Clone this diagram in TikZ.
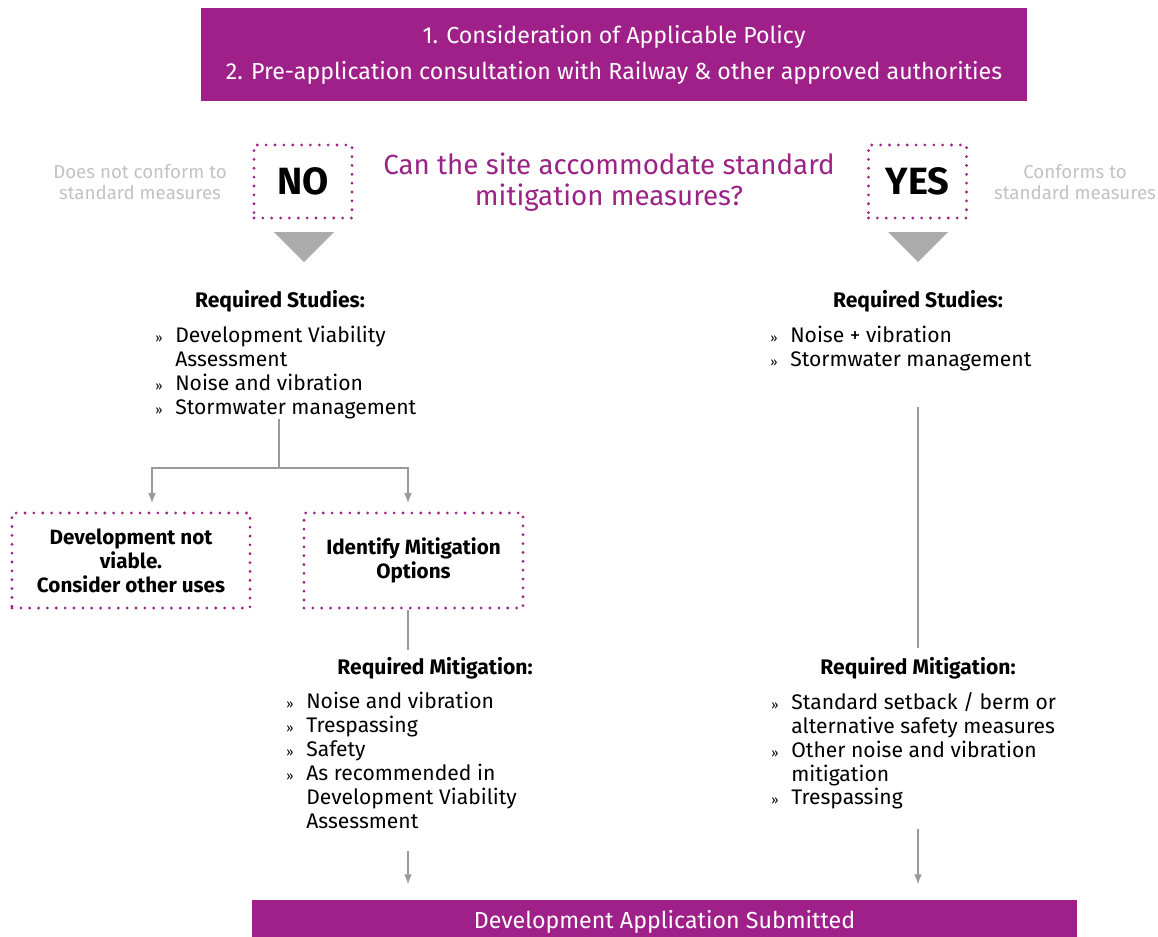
\documentclass[tikz,border=0pt]{standalone}
\usepackage{fontspec}
\setmainfont{Fira Sans}
\usetikzlibrary{positioning,arrows.meta}
\definecolor{plum}{HTML}{A0208A}
\definecolor{qplum}{HTML}{9B2386}
\definecolor{lgray}{HTML}{C2C2C2}
\definecolor{lnk}{HTML}{9A9A9A}
\definecolor{trigray}{HTML}{ABABAB}
\newcommand{\bu}{\makebox[0.5cm][l]{\small »}}
\newcommand{\ind}{\hspace*{0.5cm}}

\begin{document}
\begin{tikzpicture}[x=0.025cm,y=-0.025cm,
  banner/.style={fill=plum,text=white,align=center,inner sep=0pt,font=\fontsize{16.5}{25.6}\selectfont},
  dotbox/.style={draw=plum,line width=2.2pt,dash pattern=on 0pt off 6.3pt,line cap=round,align=center,inner sep=0pt},
  head/.style={font=\fontsize{15}{17}\selectfont\bfseries},
  list/.style={anchor=north west,inner sep=0pt,align=left,font=\fontsize{15}{17}\selectfont},
  side/.style={text=lgray,align=center,font=\fontsize{13.3}{15}\selectfont},
  link/.style={draw=lnk,line width=0.9pt},
  arr/.style={link,-{Latex[length=7pt,width=5.5pt]}}]
\useasboundingbox (0,0) rectangle (1158,936);

\node[banner,minimum width=20.65cm,minimum height=2.325cm] (policy) at (614,54.5)
  {1. Consideration of Applicable Policy\\2. Pre-application consultation with Railway \& other approved authorities};
\node[banner,minimum width=20.625cm,minimum height=1.1cm] (submit) at (664.5,922)
  {Development Application Submitted};

\node[text=qplum,align=center,font=\fontsize{19.7}{22}\selectfont] (question) at (609,182)
  {Can the site accommodate standard\\mitigation measures?};
\node[dotbox,minimum width=2.45cm,minimum height=1.825cm,font=\fontsize{27}{30}\selectfont\bfseries] (no) at (303,181.5) {NO};
\node[dotbox,minimum width=2.45cm,minimum height=1.825cm,font=\fontsize{27}{30}\selectfont\bfseries] (yes) at (917.5,181.5) {YES};
\node[side] (notconf) at (140,182) {Does not conform to\\standard measures};
\node[side] (conf) at (1075,182) {Conforms to\\standard measures};

\foreach \x in {304,918}
  \fill[trigray] (\x-30,232) -- (\x+30,232) -- (\x,262) -- cycle;

% no branch
\node[head] (studiesL) at (280,301) {Required Studies:};
\node[list] (studyL) at (155,326) {\bu Development Viability\\\ind Assessment\\\bu Noise and vibration\\\bu Stormwater management};
\coordinate (forkL) at (279,468);
\coordinate (forkA) at (152,468);
\coordinate (forkB) at (408,468);
\node[dotbox,minimum width=5.95cm,minimum height=2.375cm,font=\fontsize{14.7}{17}\selectfont\bfseries] (dev) at (131,560.5)
  {Development not\\viable.\\Consider other uses};
\node[dotbox,minimum width=5.475cm,minimum height=2.375cm,font=\fontsize{14.7}{17}\selectfont\bfseries] (ident) at (413.5,560.5)
  {Identify Mitigation\\Options};
\draw[link] (forkL |- studyL.south) -- (forkL);
\draw[arr] (forkL) -- (forkA) -- ([yshift=6]forkA |- dev.north);
\draw[arr] (forkL) -- (forkB) -- ([yshift=6]forkB |- ident.north);

\node[head] (mitL) at (435,668) {Required Mitigation:};
\node[list] (mitigL) at (286,692) {\bu Noise and vibration\\\bu Trespassing\\\bu Safety\\\bu As recommended in\\\ind Development Viability\\\ind Assessment};
\coordinate (mitTopL) at (408,650);
\draw[link] (forkB |- ident.south) -- (mitTopL);
\draw[arr] ([yshift=-16]forkB |- mitigL.south) -- ([yshift=11]forkB |- submit.north);

% yes branch
\node[head] (studiesR) at (918,301) {Required Studies:};
\node[list] (studyR) at (770,326) {\bu Noise + vibration\\\bu Stormwater management};
\node[head] (mitR) at (918,668) {Required Mitigation:};
\node[list] (mitigR) at (771,692) {\bu Standard setback / berm or\\\ind alternative safety measures\\\bu Other noise and vibration\\\ind mitigation\\\bu Trespassing};
\draw[link] ([yshift=-25]studiesR |- studyR.south) -- ([yshift=3]mitR.north);
\draw[arr] ([yshift=-14]mitR |- mitigR.south) -- ([yshift=11]mitR |- submit.north);
\end{tikzpicture}
\end{document}
